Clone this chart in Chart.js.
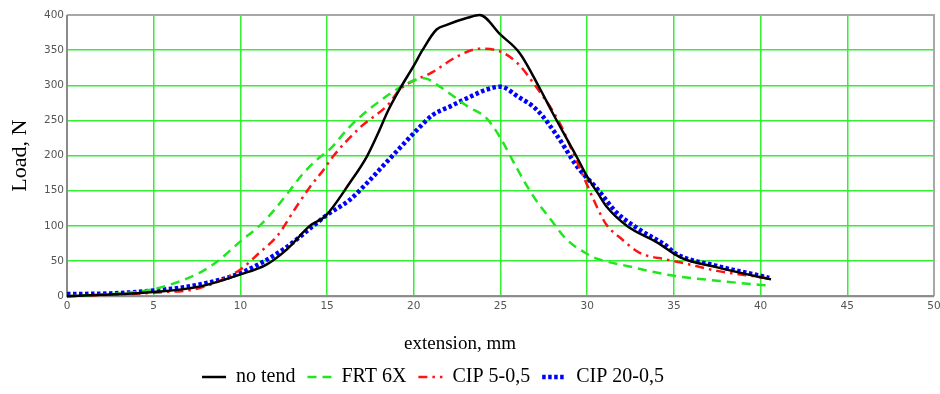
<!DOCTYPE html>
<html>
<head>
<meta charset="utf-8">
<script src="https://cdn.jsdelivr.net/npm/chart.js@4"></script>
<style>
  html, body { margin: 0; padding: 0; background: #fff; }
  #wrap { width: 940px; height: 394px; }
</style>
</head>
<body>
<div id="wrap"><canvas id="loadChart"></canvas></div>
<script>
// series: extension (mm) and load (N)
const noTendX = [0, 2, 5, 7.7, 10, 11.5, 12.7, 14, 14.9, 16.3, 17.3, 18, 18.5, 19.2, 20, 20.5, 21.3, 21.9, 23.1, 23.8, 25, 26.1, 27.3, 28, 29.4, 30, 30.6, 31.1, 32.3, 34, 35.4, 37.5, 40, 40.6];
const noTendY = [0, 2, 6, 14, 31, 45, 67, 100, 114, 161, 199, 235, 263, 295, 328, 350, 379, 386, 396, 400, 372, 346, 294, 261, 198, 170, 147, 128, 100, 77, 55, 41, 27, 24];

const frtX = [0, 2.5, 5, 7.7, 8.8, 10, 11.1, 12, 12.9, 13.6, 14.4, 15.2, 16.3, 17.9, 19.8, 20.6, 21.5, 23.1, 24.2, 25, 25.9, 26.9, 27.9, 28.8, 30, 30.6, 32.3, 35, 37.5, 40, 40.5];
const frtY = [0, 3, 10, 34, 52, 78, 100, 124, 152, 174, 194, 210, 241, 275, 305, 310, 298, 270, 253, 225, 184, 142, 109, 81, 60, 53, 43, 29, 22, 16, 15];

const cip5X = [0, 2.5, 5, 7.7, 10, 11.1, 12.1, 13.25, 14, 14.8, 15.35, 16.9, 18.5, 19.2, 21.1, 22.5, 23.8, 25, 26, 26.9, 28.4, 29.2, 30, 30.6, 31.1, 32, 33, 34.6, 35.4, 37.5, 40, 40.5];
const cip5Y = [0, 2, 5, 12, 38, 62, 85, 128, 155, 180, 199, 240, 272, 294, 319, 341, 352, 348, 331, 303, 247, 203, 158, 125, 102, 81, 62, 52, 48, 36, 27, 25];

const cip20X = [0, 2.5, 5, 7.5, 10, 12.5, 14.2, 14.9, 16.3, 17.3, 18.4, 19.2, 20.2, 21.1, 22.1, 23.1, 24.2, 25, 26, 27.1, 28.3, 29.4, 30.6, 31.7, 33, 34.6, 35, 37.5, 40, 40.5];
const cip20Y = [3, 4, 8, 16, 33, 67, 100, 114, 137, 161, 190, 211, 237, 258, 270, 282, 294, 298, 284, 265, 227, 185, 152, 119, 95, 71, 62, 43, 29, 26];

const seriesNames = ["no tend", "FRT 6X", "CIP 5-0,5", "CIP 20-0,5"];
const xTicks = [0, 50, 5];   // min, max, step
const yTicks = [0, 400, 50];

const toPoints = (xs, ys) => xs.map((x, i) => ({ x: x, y: ys[i] }));

// frame around the plot area
const plotFrame = {
    id: "plotFrame",
    beforeDatasetsDraw(chart) {
        const { ctx, chartArea: a } = chart;
        ctx.save();
        ctx.lineWidth = 2;
        ctx.strokeStyle = "#a8a8a8";
        ctx.beginPath();
        ctx.moveTo(a.left, a.top);
        ctx.lineTo(a.right, a.top);
        ctx.lineTo(a.right, a.bottom);
        ctx.stroke();
        ctx.strokeStyle = "#8a8a8a";
        ctx.beginPath();
        ctx.moveTo(a.left, a.top);
        ctx.lineTo(a.left, a.bottom);
        ctx.lineTo(a.right, a.bottom);
        ctx.stroke();
        ctx.restore();
    },
    // the caption and legend sit a bit left of centre in the original
    afterLayout(chart) {
        chart.legend.left -= 37;
        chart.legend.right -= 37;
        chart.titleBlock.left -= 10;
        chart.titleBlock.right -= 10;
    }
};

const serif = "'Liberation Serif', 'Times New Roman', serif";

const ctx = document.getElementById("loadChart").getContext("2d");
new Chart(ctx, {
    type: "line",
    data: {
        datasets: [{
            label: seriesNames[0],
            data: toPoints(noTendX, noTendY),
            borderColor: "#000000",
            borderWidth: 2.5
        }, {
            label: seriesNames[1],
            data: toPoints(frtX, frtY),
            borderColor: "#1fe61f",
            borderWidth: 2.5,
            borderDash: [9, 6]
        }, {
            label: seriesNames[2],
            data: toPoints(cip5X, cip5Y),
            borderColor: "#ff1414",
            borderWidth: 2.5,
            borderDash: [9, 5, 2.5, 5]
        }, {
            label: seriesNames[3],
            data: toPoints(cip20X, cip20Y),
            borderColor: "#0000ff",
            borderWidth: 4.5,
            borderDash: [3.5, 2.5]
        }]
    },
    options: {
        responsive: true,
        maintainAspectRatio: false,
        animation: false,
        clip: 4,
        layout: { padding: { top: 15, left: 0, right: 0, bottom: -3 } },
        elements: {
            point: { radius: 0 },
            line: { tension: 0.3, cubicInterpolationMode: "monotone", borderCapStyle: "butt" }
        },
        scales: {
            x: {
                type: "linear",
                min: xTicks[0],
                max: xTicks[1],
                ticks: {
                    stepSize: xTicks[2],
                    padding: 4,
                    color: "#555",
                    font: { family: "'DejaVu Sans', sans-serif", size: 10.5 },
                    maxRotation: 0
                },
                grid: { color: "#33ee33", lineWidth: 1.5, drawTicks: false },
                border: { display: false },
                afterFit: (scale) => { scale.height = 26; scale.paddingRight = 6; }
            },
            y: {
                min: yTicks[0],
                max: yTicks[1],
                ticks: {
                    stepSize: yTicks[2],
                    padding: 3,
                    color: "#555",
                    font: { family: "'DejaVu Sans', sans-serif", size: 10.5 }
                },
                grid: { color: "#33ee33", lineWidth: 1.5, drawTicks: false },
                border: { display: false },
                title: {
                    display: true,
                    text: "Load, N",
                    color: "#000",
                    font: { family: serif, size: 22 },
                    padding: { top: 7, bottom: 0 }
                },
                afterFit: (scale) => { scale.width = 67; }
            }
        },
        plugins: {
            title: {
                display: true,
                text: "extension, mm",
                position: "bottom",
                weight: 500,
                color: "#000",
                font: { family: serif, size: 19, weight: "normal" },
                padding: { top: 10, bottom: 0 }
            },
            legend: {
                position: "bottom",
                labels: {
                    usePointStyle: true,
                    pointStyle: "line",
                    pointStyleWidth: 24,
                    padding: 12,
                    color: "#000",
                    font: { family: serif, size: 20 },
                    // keep each series' dash pattern in the legend sample
                    generateLabels: (chart) => chart.data.datasets.map((ds, i) => ({
                        text: ds.label,
                        strokeStyle: ds.borderColor,
                        fillStyle: ds.borderColor,
                        lineWidth: ds.borderWidth,
                        lineDash: ds.borderDash || [],
                        lineCap: "butt",
                        pointStyle: "line",
                        fontColor: "#000",
                        datasetIndex: i
                    }))
                }
            },
            tooltip: { enabled: false }
        }
    },
    plugins: [plotFrame]
});
</script>
</body>
</html>
